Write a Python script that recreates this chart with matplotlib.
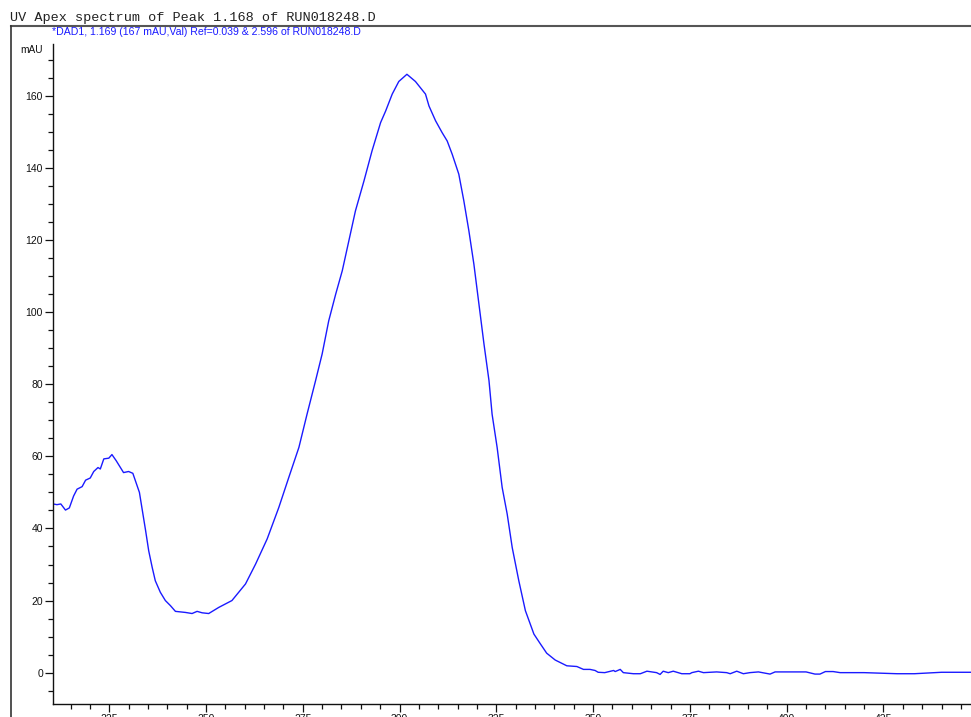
import matplotlib
matplotlib.use('Agg')
import matplotlib.pyplot as plt
from matplotlib.lines import Line2D
from matplotlib.ticker import MultipleLocator

# ---- spectrum ----
wavelength = [
    210.0, 211.5, 212.5, 213.7, 214.7, 215.8, 216.7, 218.0, 218.9, 220.1,
    221.0, 222.1, 222.7, 223.6, 224.9, 225.7, 226.8, 227.9, 228.7, 230.0,
    231.1, 231.9, 232.8, 233.7, 234.4, 235.2, 236.1, 236.9, 238.2, 239.5,
    240.8, 242.1, 244.7, 246.4, 247.7, 249.0, 250.7, 253.3, 256.7, 260.2,
    262.8, 265.8, 268.8, 271.4, 274.0, 276.1, 278.3, 280.0, 281.7, 283.5,
    285.2, 286.9, 288.6, 290.8, 292.9, 295.1, 296.4, 298.1, 299.8, 301.9,
    304.1, 306.7, 307.6, 309.3, 311.0, 312.3, 313.6, 315.3, 316.6, 317.9,
    319.2, 320.5, 321.8, 323.1, 323.9, 325.2, 326.5, 327.8, 329.1, 330.8,
    332.5, 334.7, 336.3, 338.0, 340.2, 343.2, 345.8, 347.5, 349.2, 350.5,
    351.3, 353.0, 355.3, 355.7, 357.0, 357.8, 360.4, 362.2, 363.9, 366.4,
    367.3, 368.1, 369.4, 370.7, 372.0, 372.9, 375.0, 375.5, 377.2, 378.5,
    381.9, 384.5, 385.4, 387.1, 388.8, 390.5, 392.7, 395.7, 397.0, 405.0,
    407.3, 408.6, 410.0, 412.0, 413.8, 420.0, 428.5, 433.0, 440.0, 447.6,
]
mau = [
    46.9, 46.6, 46.8, 45.1, 45.7, 49.0, 50.9, 51.6, 53.4, 54.0,
    55.8, 56.9, 56.5, 59.3, 59.5, 60.5, 58.8, 56.9, 55.5, 55.8,
    55.3, 52.8, 50.0, 44.0, 39.4, 33.8, 29.2, 25.5, 22.3, 20.0,
    18.6, 17.0, 16.7, 16.4, 17.0, 16.6, 16.4, 18.1, 20.0, 24.6,
    30.1, 37.1, 45.8, 54.2, 62.5, 71.7, 81.0, 88.4, 97.6, 105.0,
    111.5, 119.8, 128.1, 136.4, 144.8, 152.6, 155.8, 160.5, 164.0, 166.0,
    164.0, 160.5, 157.2, 153.1, 149.8, 147.5, 143.8, 138.3, 130.9, 122.6,
    113.3, 102.2, 91.2, 81.0, 71.7, 62.5, 51.4, 44.0, 34.7, 25.5,
    17.2, 10.7, 8.1, 5.4, 3.5, 1.9, 1.7, 0.9, 0.9, 0.6,
    0.1, 0.0, 0.6, 0.3, 0.9, 0.0, -0.3, -0.3, 0.4, 0.0,
    -0.5, 0.4, 0.0, 0.4, 0.0, -0.3, -0.3, 0.0, 0.4, 0.0,
    0.2, 0.0, -0.3, 0.4, -0.3, 0.0, 0.2, -0.4, 0.2, 0.2,
    -0.4, -0.4, 0.3, 0.3, 0.0, 0.0, -0.3, -0.3, 0.1, 0.1,
]

TITLE = 'UV Apex spectrum of Peak 1.168 of RUN018248.D'
TRACE = '*DAD1, 1.169 (167 mAU,Val) Ref=0.039 & 2.596 of RUN018248.D'

W, H = 971, 717
fig = plt.figure(figsize=(W / 100, H / 100), dpi=100)

# axes box in pixels (left spine at 52.7, right runs past the edge)
x0, x1 = 52.7, 988.0
y_top, y_bot = 44.0, 704.0
ax = fig.add_axes([x0 / W, 1 - y_bot / H, (x1 - x0) / W, (y_bot - y_top) / H])

ax.plot(wavelength, mau, color='#1a1aff', lw=1.0)

ax.set_xlim(210.4, 452.0)
ax.set_ylim(-8.7, 174.4)
ax.xaxis.set_major_locator(MultipleLocator(25))
ax.xaxis.set_minor_locator(MultipleLocator(5))
ax.yaxis.set_major_locator(MultipleLocator(20))
ax.yaxis.set_minor_locator(MultipleLocator(5))

for s in ['top', 'right']:
    ax.spines[s].set_visible(False)
for s in ['left', 'bottom']:
    ax.spines[s].set_linewidth(1.0)
    ax.spines[s].set_color('#111111')

ax.tick_params(which='major', direction='out', length=5.5, width=0.9,
               labelsize=7.5, pad=1.5, colors='#111111')
ax.tick_params(which='minor', direction='out', length=3.5, width=0.9,
               colors='#111111')
for lab in ax.get_xticklabels() + ax.get_yticklabels():
    lab.set_family('Liberation Sans')

# outer frame lines
fig.add_artist(Line2D([11 / W, 1.0], [1 - 25.7 / H, 1 - 25.7 / H],
                      color='#555555', lw=1.5, transform=fig.transFigure))
fig.add_artist(Line2D([11 / W, 11 / W], [1 - 25.7 / H, 0.0],
                      color='#333333', lw=1.2, transform=fig.transFigure))

fig.text(10 / W, 1 - 21 / H, TITLE, family='Liberation Mono', fontsize=9.7,
         va='baseline', ha='left', color='#222222')
fig.text(52 / W, 1 - 35 / H, TRACE, family='Liberation Sans', fontsize=7.6,
         va='baseline', ha='left', color='#1a1aff')
fig.text(43 / W, 1 - 53 / H, 'mAU', family='Liberation Sans', fontsize=7.3,
         va='baseline', ha='right', color='#111111')

fig.savefig('out.png', dpi=100)
